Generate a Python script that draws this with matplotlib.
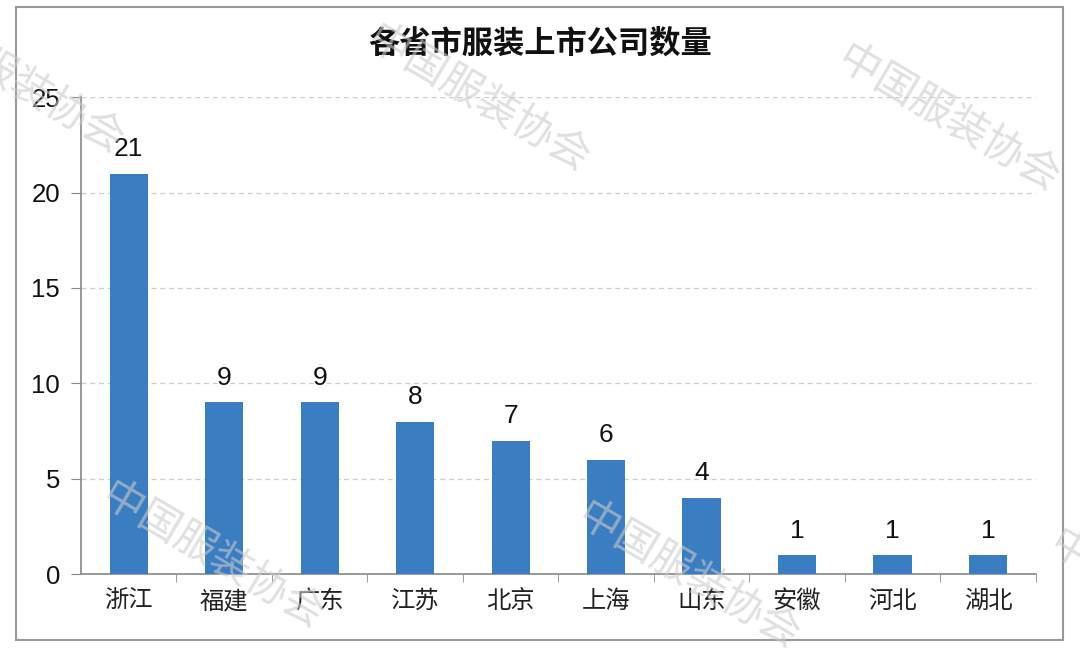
import matplotlib.pyplot as plt
from matplotlib.patches import Rectangle

plt.rcParams['font.family'] = ['Noto Sans CJK SC', 'DejaVu Sans']

provinces = ['浙江', '福建', '广东', '江苏', '北京', '上海', '山东', '安徽', '河北', '湖北']
counts = [21, 9, 9, 8, 7, 6, 4, 1, 1, 1]
yticks = [0, 5, 10, 15, 20, 25]
title = '各省市服装上市公司数量'
watermark = '中国服装协会'

num_font = ['Liberation Sans', 'DejaVu Sans']

fig = plt.figure(figsize=(10.8, 6.48), dpi=100)
ax = fig.add_axes([0.075, 0.114, 0.884, 0.736])

x = range(len(provinces))
bars = ax.bar(x, counts, width=0.4, color='#3b7dc1', zorder=3)
for b, v in zip(bars, counts):
    ax.annotate(str(v), (b.get_x() + b.get_width() / 2, v), xytext=(0, 9),
                textcoords='offset points', ha='center', va='bottom',
                fontsize=19, color='#111111', family=num_font)

ax.set_xlim(-0.5, len(provinces) - 0.5)
ax.set_ylim(0, 25)
ax.set_yticks(yticks)
ax.set_yticklabels([str(t) for t in yticks], family=num_font)
ax.set_xticks(list(x))
ax.set_xticklabels(provinces, fontsize=17.5, color='#222222')
ax.set_xticks([i + 0.5 for i in range(len(provinces))], minor=True)
ax.tick_params(axis='x', which='major', length=0, pad=10)
ax.tick_params(axis='x', which='minor', length=6, color='#888888', direction='out')
ax.tick_params(axis='y', labelsize=18.5, length=7, color='#888888', pad=8, labelcolor='#111111')
ax.grid(axis='y', linestyle=(0, (4, 3)), color='#cccccc', linewidth=0.9, zorder=0)
for s in ['top', 'right']:
    ax.spines[s].set_visible(False)
for s in ['left', 'bottom']:
    ax.spines[s].set_color('#888888')
    ax.spines[s].set_linewidth(1.2)

fig.text(0.5, 0.933, title, ha='center', va='center', fontsize=22.5, fontweight='bold', color='#111111')

# border around figure
fig.add_artist(Rectangle((16 / 1080, 8 / 648), 1047 / 1080, 633 / 648, transform=fig.transFigure,
                         fill=False, edgecolor='#999999', linewidth=1.5))

# watermarks
for wx, wy in [(12, 82), (478, 100), (948, 120), (212, 557), (688, 577), (1160, 605)]:
    fig.text(wx / 1080, 1 - wy / 648, watermark, rotation=-30.5, ha='center', va='center',
             fontsize=30, fontweight='light', color='#cccccc', alpha=0.6, zorder=10)

fig.savefig('out.png', dpi=100)
